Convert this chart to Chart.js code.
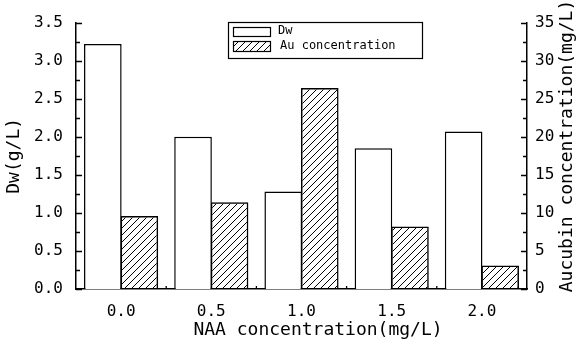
<!DOCTYPE html>
<html>
<head>
<meta charset="utf-8">
<script src="https://cdn.jsdelivr.net/npm/chart.js@4"></script>
<style>
  html, body { margin: 0; padding: 0; background: #fff; }
  #wrap { width: 577px; height: 347px; }
</style>
</head>
<body>
<div id="wrap"><canvas id="naaChart" width="577" height="347"></canvas></div>
<script>
// ── data ─────────────────────────────────────────────────────────────────────
const CATEGORIES = ['0.0', '0.5', '1.0', '1.5', '2.0'];
const DW_VALUES  = [3.22, 2.00, 1.28, 1.85, 2.07];   // g/L, left axis
const AU_VALUES  = [9.6, 11.4, 26.4, 8.2, 3.1];      // mg/L, right axis
const DW_TICKS   = [0, 0.5, 1.0, 1.5, 2.0, 2.5, 3.0, 3.5];
const AU_TICKS   = [0, 5, 10, 15, 20, 25, 30, 35];

const X_TITLE  = 'NAA concentration(mg/L)';
const Y2_TITLE = 'Aucubin concentration(mg/L)';

const MONO = '"DejaVu Sans Mono", "Liberation Mono", monospace';
const INK = '#000';

// hatch pattern for the aucubin bars
function makeHatch() {
  const c = document.createElement('canvas');
  c.width = 7; c.height = 7;
  const g = c.getContext('2d');
  g.strokeStyle = INK;
  g.lineWidth = 1;
  g.beginPath();
  g.moveTo(-1, 8); g.lineTo(8, -1);
  g.moveTo(-4, 4); g.lineTo(4, -4);
  g.moveTo(3, 11); g.lineTo(11, 3);
  g.stroke();
  return g.createPattern(c, 'repeat');
}
const HATCH = makeHatch();

// inward ticks (major + minor), boxed legend, x / right titles
const extrasPlugin = {
  id: 'extras',
  afterDraw(chart) {
    const { ctx, chartArea: a } = chart;
    const y = chart.scales.y, y2 = chart.scales.y2, x = chart.scales.x;
    ctx.save();
    ctx.strokeStyle = INK;
    ctx.lineWidth = 1.3;
    ctx.beginPath();
    for (let v = 0; v <= 3.5001; v += 0.25) {
      const p = Math.round(y.getPixelForValue(v)) + 0.5;
      const len = Math.abs(v / 0.5 - Math.round(v / 0.5)) < 1e-6 ? 6 : 4;
      ctx.moveTo(a.left, p); ctx.lineTo(a.left + len, p);
    }
    for (let v = 0; v <= 35.001; v += 2.5) {
      const p = Math.round(y2.getPixelForValue(v)) + 0.5;
      const len = Math.abs(v / 5 - Math.round(v / 5)) < 1e-6 ? 6 : 4;
      ctx.moveTo(a.right, p); ctx.lineTo(a.right - len, p);
    }
    for (let i = 1; i < CATEGORIES.length; i++) {
      const p = (x.getPixelForValue(i - 1) + x.getPixelForValue(i)) / 2;
      ctx.moveTo(p, a.bottom); ctx.lineTo(p, a.bottom - 3);
    }
    ctx.stroke();

    // legend
    ctx.lineWidth = 1.2;
    ctx.strokeRect(228.5, 22.5, 194, 36);
    ctx.fillStyle = '#fff';
    ctx.fillRect(233.5, 27.5, 37, 9);
    ctx.strokeRect(233.5, 27.5, 37, 9);
    ctx.fillStyle = HATCH;
    ctx.fillRect(233.5, 41.5, 37, 10);
    ctx.strokeRect(233.5, 41.5, 37, 10);
    ctx.fillStyle = INK;
    ctx.font = '12px ' + MONO;
    ctx.textBaseline = 'middle';
    ctx.fillText(chart.data.datasets[0].label, 278, 31);
    ctx.fillText(chart.data.datasets[1].label, 280, 46);

    // titles
    ctx.font = '18px ' + MONO;
    ctx.textAlign = 'center';
    ctx.fillText(X_TITLE, 318, 330);
    ctx.translate(567, 146);
    ctx.rotate(-Math.PI / 2);
    ctx.fillText(Y2_TITLE, 0, 0);
    ctx.restore();
  }
};

const tickFont  = { family: MONO, size: 16 };
const titleFont = { family: MONO, size: 18 };

new Chart(document.getElementById('naaChart'), {
  type: 'bar',
  data: {
    labels: CATEGORIES,
    datasets: [
      {
        label: 'Dw',
        data: DW_VALUES,
        yAxisID: 'y',
        backgroundColor: '#fff',
        borderColor: INK,
        borderWidth: 1.5,
      },
      {
        label: 'Au concentration',
        data: AU_VALUES,
        yAxisID: 'y2',
        backgroundColor: HATCH,
        borderColor: INK,
        borderWidth: 1.5,
      }
    ]
  },
  options: {
    responsive: false,
    devicePixelRatio: 1,
    animation: false,
    layout: { padding: { top: 22, left: 0, right: 0, bottom: 0 } },
    datasets: { bar: { categoryPercentage: 0.81, barPercentage: 1.03 } },
    plugins: { legend: { display: false }, tooltip: { enabled: false } },
    scales: {
      x: {
        grid: { display: false, drawTicks: false },
        border: { color: INK, width: 1.5 },
        ticks: { font: tickFont, color: INK, padding: 13 },
        afterFit: s => { s.height = 58; }
      },
      y: {
        position: 'left',
        min: 0, max: 3.5,
        afterBuildTicks: s => { s.ticks = DW_TICKS.map(v => ({ value: v })); },
        grid: { display: false, drawTicks: false },
        border: { color: INK, width: 1.5 },
        ticks: { font: tickFont, color: INK, padding: 13, callback: v => v.toFixed(1) },
        title: { display: true, text: 'Dw(g/L)', font: titleFont, color: INK, padding: { top: 4, bottom: 0 } },
        afterFit: s => { s.width = 76; }
      },
      y2: {
        position: 'right',
        min: 0, max: 35,
        afterBuildTicks: s => { s.ticks = AU_TICKS.map(v => ({ value: v })); },
        grid: { display: false, drawTicks: false },
        border: { color: INK, width: 1.5 },
        ticks: { font: tickFont, color: INK, padding: 8 },
        afterFit: s => { s.width = 50; }
      }
    }
  },
  plugins: [extrasPlugin]
});
</script>
</body>
</html>
